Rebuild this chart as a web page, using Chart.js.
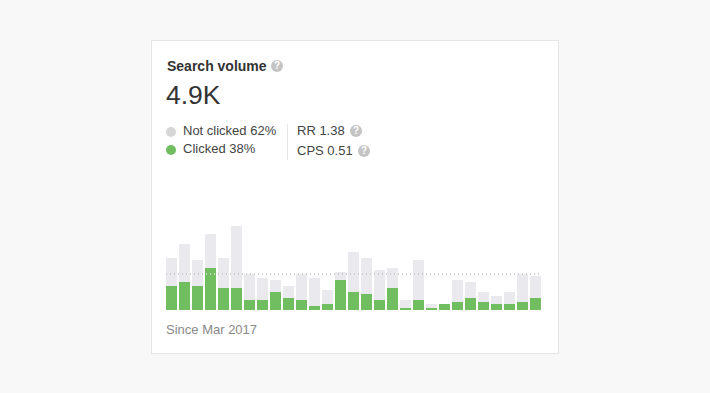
<!DOCTYPE html>
<html>
<head>
<meta charset="utf-8">
<script src="https://cdn.jsdelivr.net/npm/chart.js@4"></script>
<style>
  html, body { margin: 0; padding: 0; background: #f8f8f8; width: 710px; height: 393px; overflow: hidden; }
  body { font-family: "Liberation Sans", Arial, sans-serif; color: #333; position: relative; }
  .card { position: absolute; left: 151px; top: 40px; width: 406px; height: 312px; background: #fff; border: 1px solid #e6e6e6; }
  .abs { position: absolute; white-space: nowrap; line-height: 16px; }
  .title { left: 167px; top: 58px; font-size: 14px; font-weight: bold; color: #333; }
  .big { left: 166px; top: 79px; font-size: 26.5px; line-height: 32px; color: #333; }
  .small { font-size: 13px; color: #444; }
  .muted { left: 166px; top: 322px; font-size: 13px; color: #888; }
  .dot { position: absolute; width: 10px; height: 10px; border-radius: 50%; }
  .help { position: absolute; width: 12px; height: 12px; border-radius: 50%; background: #c4c4c4; color: #fff; font-size: 10px; font-weight: bold; line-height: 12px; text-align: center; }
  .sep { position: absolute; left: 287px; top: 124px; width: 1px; height: 36px; background: #e6e6e6; }
  .wrap { position: absolute; left: 165px; top: 220px; width: 377px; height: 90px; }
</style>
</head>
<body>
<div class="card"></div>
<div class="abs title">Search volume</div><div class="help" style="left:271px;top:60px">?</div>
<div class="abs big">4.9K</div>
<div class="dot" style="left:166px;top:127px;background:#d6d6d6"></div>
<div class="abs small" style="left:183px;top:123px">Not clicked 62%</div>
<div class="dot" style="left:166px;top:145px;background:#70be60"></div>
<div class="abs small" style="left:183px;top:141px">Clicked 38%</div>
<div class="sep"></div>
<div class="abs small" style="left:297px;top:123px">RR 1.38</div><div class="help" style="left:350px;top:125px">?</div>
<div class="abs small" style="left:297px;top:143px">CPS 0.51</div><div class="help" style="left:358px;top:145px">?</div>
<div class="wrap"><canvas id="chart"></canvas></div>
<div class="abs muted">Since Mar 2017</div>
<script>
const categories = ['1','2','3','4','5','6','7','8','9','10','11','12','13','14','15','16','17','18','19','20','21','22','23','24','25','26','27','28','29'];
const clicked = [12,14,12,21,11,11,5,5,9,6,5,2,3,15,9,8,5,11,1,5,1,3,4,6,4,3,3,4,6];
const notClicked = [14,19,13,17,15,31,13,11,6,6,13,14,7,4,20,18,15,10,4,20,2,0,11,8,5,4,6,14,11];
const averageLine = 18;

const dottedLine = {
  id: 'dottedLine',
  afterDatasetsDraw(chart) {
    const { ctx, chartArea, scales } = chart;
    const y = Math.round(scales.y.getPixelForValue(averageLine));
    ctx.save();
    ctx.strokeStyle = '#cfcfcf';
    ctx.lineWidth = 2;
    ctx.setLineDash([1, 3]);
    ctx.beginPath();
    ctx.moveTo(chartArea.left + 1, y);
    ctx.lineTo(chartArea.right, y);
    ctx.stroke();
    ctx.restore();
  }
};

new Chart(document.getElementById('chart').getContext('2d'), {
  type: 'bar',
  data: {
    labels: categories,
    datasets: [
      { label: 'Clicked', data: clicked, backgroundColor: '#70be60', barPercentage: 11 / 13, categoryPercentage: 1 },
      { label: 'Not clicked', data: notClicked, backgroundColor: '#e9e9ee', barPercentage: 11 / 13, categoryPercentage: 1 }
    ]
  },
  options: {
    responsive: true,
    maintainAspectRatio: false,
    animation: false,
    layout: { padding: 0 },
    plugins: { legend: { display: false }, tooltip: { enabled: false } },
    scales: {
      x: { stacked: true, display: false },
      y: { stacked: true, display: false, min: 0, max: 45 }
    }
  },
  plugins: [dottedLine]
});
</script>
</body>
</html>
